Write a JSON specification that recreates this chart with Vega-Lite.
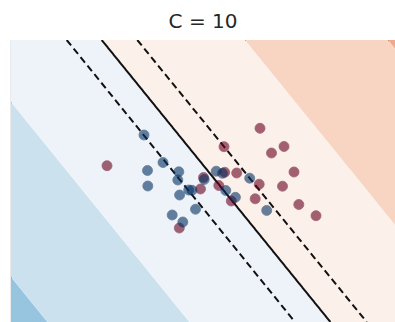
{
  "$schema": "https://vega.github.io/schema/vega-lite/v6.json",
  "width": 384,
  "height": 282,
  "autosize": {"type": "none"},
  "padding": {"left": 11, "top": 40, "right": 0, "bottom": 0},
  "background": "white",
  "config": {"view": {"stroke": null}},
  "title": {
    "text": "C = 10",
    "font": "DejaVu Sans",
    "fontSize": 20,
    "fontWeight": "normal",
    "color": "#262626",
    "anchor": "middle",
    "baseline": "alphabetic",
    "offset": 12,
    "dy": 20
  },
  "datasets": {
    "bands": [
      {"band": "b1", "y": 282, "xa": -800, "xb": -192},
      {"band": "b1", "y": 0, "xa": -800, "xb": 36.4},
      {"band": "b2", "y": 282, "xa": -192, "xb": -50.3},
      {"band": "b2", "y": 0, "xa": 36.4, "xb": 178.4},
      {"band": "b3", "y": 282, "xa": -50.3, "xb": 90.7},
      {"band": "b3", "y": 0, "xa": 178.4, "xb": 319.4},
      {"band": "b4", "y": 282, "xa": 90.7, "xb": 234},
      {"band": "b4", "y": 0, "xa": 319.4, "xb": 463},
      {"band": "b5", "y": 282, "xa": 234, "xb": 377},
      {"band": "b5", "y": 0, "xa": 463, "xb": 606},
      {"band": "b6", "y": 282, "xa": 377, "xb": 1200},
      {"band": "b6", "y": 0, "xa": 606, "xb": 1200}
    ],
    "lines": [
      {"line": "lower margin", "kind": "dashed", "y": 282, "x": 55.7},
      {"line": "lower margin", "kind": "dashed", "y": 0, "x": 284},
      {"line": "boundary", "kind": "solid", "y": 282, "x": 90.7},
      {"line": "boundary", "kind": "solid", "y": 0, "x": 319.4},
      {"line": "upper margin", "kind": "dashed", "y": 282, "x": 126.3},
      {"line": "upper margin", "kind": "dashed", "y": 0, "x": 355.7}
    ],
    "points": [
      {"cls": "red", "x": 249, "y": 193.7},
      {"cls": "red", "x": 213, "y": 175.3},
      {"cls": "red", "x": 273, "y": 175.5},
      {"cls": "red", "x": 260.5, "y": 169},
      {"cls": "red", "x": 96, "y": 156.3},
      {"cls": "red", "x": 283, "y": 150},
      {"cls": "red", "x": 225.7, "y": 149},
      {"cls": "red", "x": 213.7, "y": 149.7},
      {"cls": "red", "x": 192.5, "y": 144.5},
      {"cls": "red", "x": 248.2, "y": 137.8},
      {"cls": "red", "x": 271.5, "y": 135.8},
      {"cls": "red", "x": 207.8, "y": 136.5},
      {"cls": "red", "x": 189.5, "y": 133},
      {"cls": "red", "x": 244.2, "y": 123.2},
      {"cls": "red", "x": 220.3, "y": 121},
      {"cls": "red", "x": 287.8, "y": 117.5},
      {"cls": "red", "x": 305, "y": 106.3},
      {"cls": "red", "x": 168.3, "y": 94},
      {"cls": "blue", "x": 133, "y": 187},
      {"cls": "blue", "x": 152, "y": 159.5},
      {"cls": "blue", "x": 136.5, "y": 151.5},
      {"cls": "blue", "x": 167.8, "y": 150.2},
      {"cls": "blue", "x": 136.8, "y": 136},
      {"cls": "blue", "x": 166.8, "y": 142},
      {"cls": "blue", "x": 177.7, "y": 132},
      {"cls": "blue", "x": 181, "y": 131.7},
      {"cls": "blue", "x": 168.6, "y": 127},
      {"cls": "blue", "x": 193.2, "y": 142.5},
      {"cls": "blue", "x": 205.2, "y": 150.8},
      {"cls": "blue", "x": 211.5, "y": 148.7},
      {"cls": "blue", "x": 238.7, "y": 143.8},
      {"cls": "blue", "x": 214.8, "y": 131.5},
      {"cls": "blue", "x": 224.4, "y": 124.7},
      {"cls": "blue", "x": 184.5, "y": 112.8},
      {"cls": "blue", "x": 161.2, "y": 107},
      {"cls": "blue", "x": 171.8, "y": 100},
      {"cls": "blue", "x": 255.7, "y": 111.6}
    ]
  },
  "layer": [
    {
      "data": {"name": "bands"},
      "mark": {"type": "area", "orient": "horizontal", "clip": true, "opacity": 1},
      "encoding": {
        "y": {"field": "y", "type": "quantitative", "scale": {"domain": [0, 282], "nice": false, "zero": false},
              "axis": {"orient": "left", "title": null, "labels": false, "ticks": false, "grid": false, "domain": true, "domainColor": "#262626", "domainWidth": 1.2}},
        "x": {"field": "xa", "type": "quantitative", "scale": {"domain": [0, 384], "nice": false, "zero": false},
              "axis": {"orient": "top", "title": null, "labels": false, "ticks": false, "grid": false, "domain": true, "domainColor": "#262626", "domainWidth": 1.2}},
        "x2": {"field": "xb"},
        "color": {"field": "band", "type": "nominal", "legend": null,
                  "scale": {"domain": ["b1", "b2", "b3", "b4", "b5", "b6"],
                            "range": ["#97c5df", "#cbe2ee", "#edf3f8", "#fcf0ea", "#f8d5c3", "#f2a88c"]}},
        "detail": {"field": "band"}
      }
    },
    {
      "data": {"name": "lines"},
      "mark": {"type": "line", "clip": true, "color": "#111111", "strokeWidth": 2},
      "encoding": {
        "x": {"field": "x", "type": "quantitative"},
        "y": {"field": "y", "type": "quantitative"},
        "detail": {"field": "line"},
        "strokeDash": {"field": "kind", "type": "nominal", "legend": null,
                       "scale": {"domain": ["solid", "dashed"], "range": [[1, 0], [7, 4]]}}
      }
    },
    {
      "data": {"name": "points"},
      "mark": {"type": "circle", "size": 100, "opacity": 0.6, "strokeWidth": 0.8, "clip": true},
      "encoding": {
        "x": {"field": "x", "type": "quantitative"},
        "y": {"field": "y", "type": "quantitative"},
        "fill": {"field": "cls", "type": "nominal", "legend": null,
                 "scale": {"domain": ["blue", "red"], "range": ["#053061", "#67001f"]}},
        "stroke": {"field": "cls", "type": "nominal", "legend": null,
                   "scale": {"domain": ["blue", "red"], "range": ["#053061", "#67001f"]}}
      }
    }
  ]
}
